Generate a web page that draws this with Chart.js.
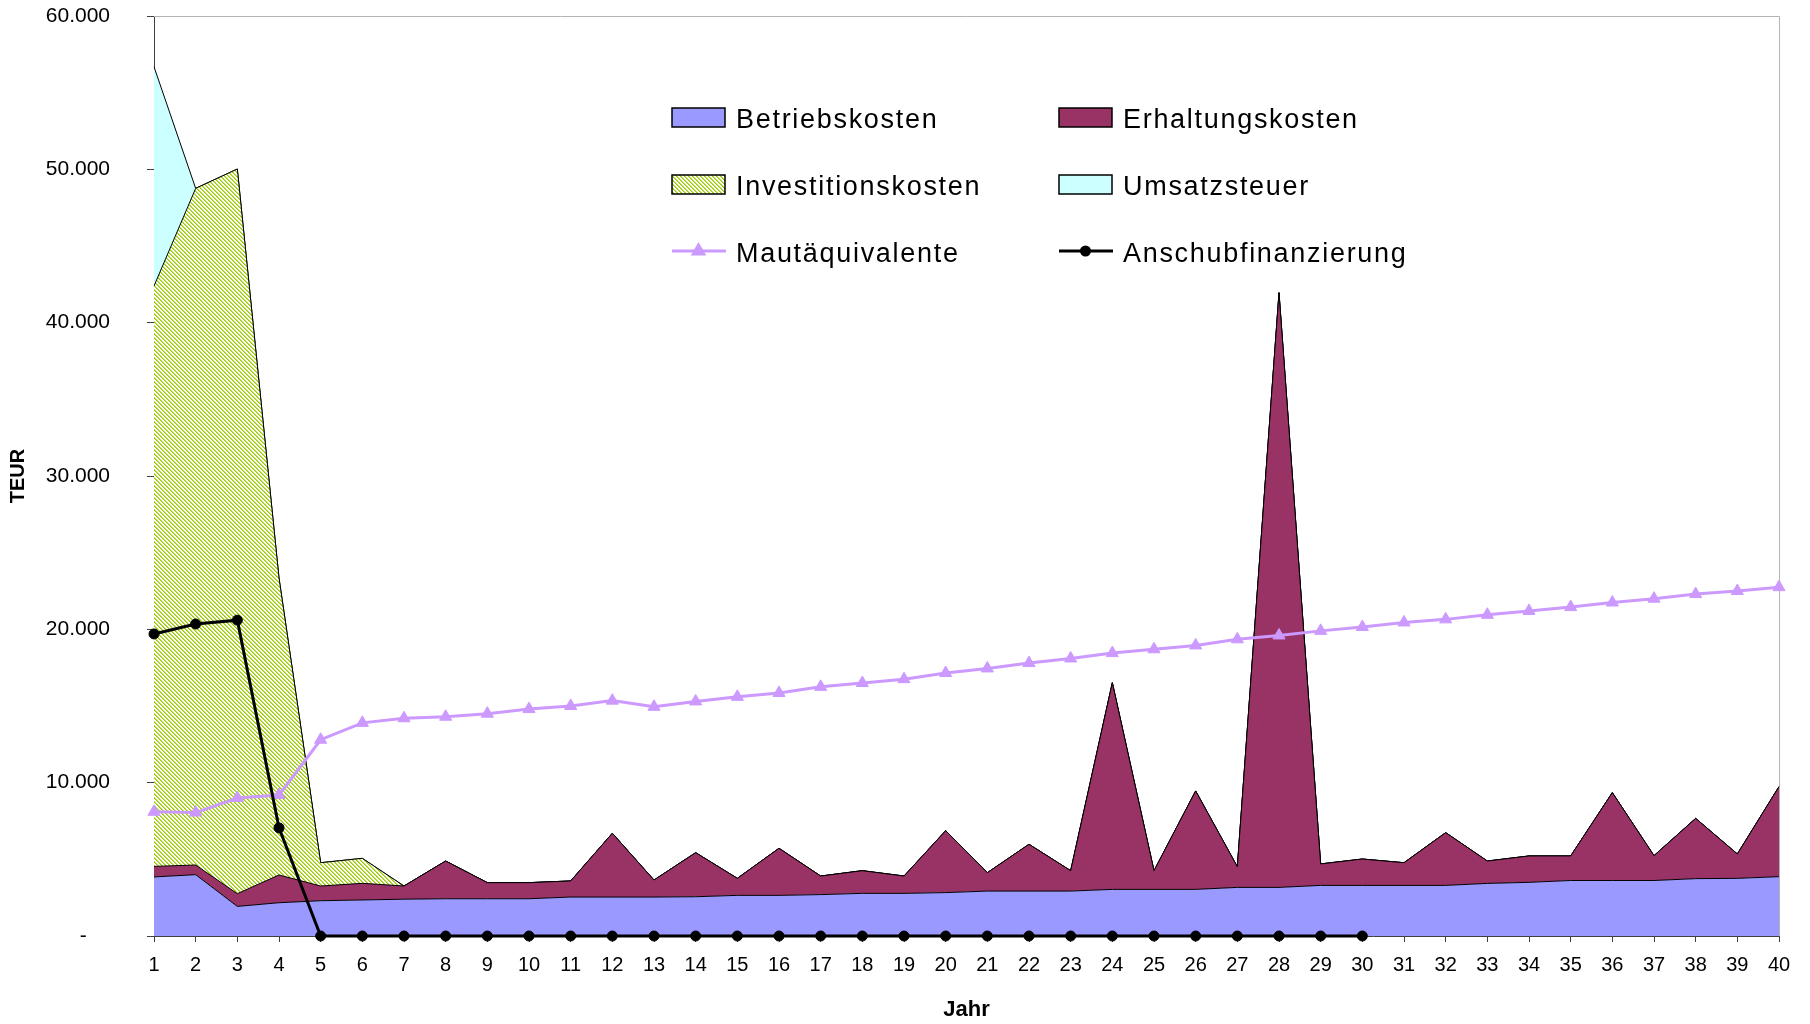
<!DOCTYPE html>
<html lang="de">
<head>
<meta charset="utf-8">
<title>Kosten und Mautäquivalente je Jahr</title>
<script src="https://cdn.jsdelivr.net/npm/chart.js@4.4.1/dist/chart.umd.min.js"></script>
<style>
  html, body { margin: 0; padding: 0; background: #ffffff; }
  #wrap { width: 1810px; height: 1024px; }
</style>
</head>
<body>
<div id="wrap"><canvas id="c" width="1810" height="1024"></canvas></div>
<script>
// ---- data (TEUR per year) ----
const jahre = ['1','2','3','4','5','6','7','8','9','10','11','12','13','14','15','16','17','18','19','20',
               '21','22','23','24','25','26','27','28','29','30','31','32','33','34','35','36','37','38','39','40'];

const betriebskosten = [3850, 4000, 1930, 2170, 2300, 2350, 2400, 2430, 2430, 2430,
                        2540, 2540, 2540, 2560, 2650, 2650, 2700, 2780, 2780, 2830,
                        2930, 2930, 2930, 3040, 3040, 3040, 3170, 3170, 3300, 3300,
                        3300, 3300, 3430, 3500, 3620, 3620, 3620, 3740, 3760, 3870];

const erhaltungskosten = [690, 630, 830, 1810, 960, 1085, 860, 2460, 1050, 1050,
                          1050, 4160, 1110, 2875, 1110, 3070, 1210, 1480, 1130, 4040,
                          1200, 3050, 1330, 13480, 1220, 6420, 1350, 38785, 1400, 1720,
                          1480, 3440, 1460, 1720, 1600, 5730, 1620, 3930, 1590, 5870];

const investitionskosten = [37850, 44130, 47260, 19370, 1520, 1630, 0, 0, 0, 0,
                            0, 0, 0, 0, 0, 0, 0, 0, 0, 0,
                            0, 0, 0, 0, 0, 0, 0, 0, 0, 0,
                            0, 0, 0, 0, 0, 0, 0, 0, 0, 0];

const umsatzsteuer = [14300, 0, 0, 0, 0, 0, 0, 0, 0, 0,
                      0, 0, 0, 0, 0, 0, 0, 0, 0, 0,
                      0, 0, 0, 0, 0, 0, 0, 0, 0, 0,
                      0, 0, 0, 0, 0, 0, 0, 0, 0, 0];

const mautaequivalente = [8100, 8050, 9000, 9200, 12800, 13900, 14200, 14300, 14500, 14800,
                          15000, 15350, 14950, 15300, 15600, 15850, 16250, 16500, 16750, 17150,
                          17450, 17800, 18100, 18450, 18700, 18950, 19350, 19600, 19900, 20150,
                          20450, 20650, 20950, 21200, 21450, 21750, 22000, 22300, 22500, 22750];

const anschubfinanzierung = [19700, 20350, 20600, 7050, 0, 0, 0, 0, 0, 0,
                             0, 0, 0, 0, 0, 0, 0, 0, 0, 0,
                             0, 0, 0, 0, 0, 0, 0, 0, 0, 0,
                             null, null, null, null, null, null, null, null, null, null];

const yTicks = [0, 10000, 20000, 30000, 40000, 50000, 60000];

// ---- styling helpers ----
const FONT = '"Liberation Sans", Arial, Helvetica, sans-serif';

// green diagonal hatch on white (stripes running down to the right)
function makeHatch() {
  const n = 8;
  const tile = document.createElement('canvas');
  tile.width = n; tile.height = n;
  const g = tile.getContext('2d');
  g.fillStyle = '#ffffff';
  g.fillRect(0, 0, n, n);
  for (let y = 0; y < n; y++) {
    for (let x = 0; x < n; x++) {
      const k = (((x - y) % 4) + 4) % 4;
      if (k === 0) { g.fillStyle = '#99cc00'; g.fillRect(x, y, 1, 1); }
      else if (k === 1) { g.fillStyle = '#bcdc5a'; g.fillRect(x, y, 1, 1); }
    }
  }
  return g.createPattern(tile, 'repeat');
}
const hatch = makeHatch();

// thousands separator with a dot, zero shown as a dash
function fmtTick(v) {
  if (v === 0) return '-    ';
  return String(Math.round(v)).replace(/\B(?=(\d{3})+(?!\d))/g, '.');
}

// light frame on the top and right side of the plot area
const plotFrame = {
  id: 'plotFrame',
  beforeDatasetsDraw(chart) {
    const { ctx, chartArea: a } = chart;
    ctx.save();
    ctx.strokeStyle = '#b4b4b4';
    ctx.lineWidth = 1;
    ctx.beginPath();
    ctx.moveTo(a.left, a.top + 0.5);
    ctx.lineTo(a.right + 0.5, a.top + 0.5);
    ctx.lineTo(a.right + 0.5, a.bottom);
    ctx.stroke();
    ctx.restore();
  }
};

// two-column legend inside the plot area
const gridLegend = {
  id: 'gridLegend',
  afterDraw(chart, args, opts) {
    const ctx = chart.ctx;
    const sets = chart.data.datasets;
    ctx.save();
    opts.order.forEach((idx, i) => {
      const d = sets[idx];
      const x = opts.colX[i % 2];
      const base = opts.rowBase[Math.floor(i / 2)];
      if (d.fill !== false) {
        ctx.fillStyle = d.backgroundColor;
        ctx.fillRect(x, base - 20, opts.boxW, opts.boxH);
        ctx.strokeStyle = '#000000';
        ctx.lineWidth = 1.5;
        ctx.strokeRect(x, base - 20, opts.boxW, opts.boxH);
      } else {
        const cy = base - 11;
        ctx.strokeStyle = d.borderColor;
        ctx.lineWidth = 3;
        ctx.beginPath();
        ctx.moveTo(x, cy);
        ctx.lineTo(x + opts.boxW + 1, cy);
        ctx.stroke();
        ctx.fillStyle = d.pointBackgroundColor;
        ctx.strokeStyle = d.pointBorderColor;
        Chart.helpers.drawPoint(ctx, {
          pointStyle: d.pointStyle, rotation: 0,
          radius: d.pointStyle === 'triangle' ? 6 : 4, borderWidth: 1
        }, x + opts.boxW / 2, cy);
      }
      ctx.fillStyle = '#000000';
      ctx.font = opts.font;
      if ('letterSpacing' in ctx) ctx.letterSpacing = opts.letterSpacing;
      ctx.textAlign = 'left';
      ctx.textBaseline = 'alphabetic';
      ctx.fillText(d.label, x + opts.textGap, base);
      if ('letterSpacing' in ctx) ctx.letterSpacing = '0px';
    });
    ctx.restore();
  }
};

const areaCommon = {
  borderColor: '#000000',
  borderWidth: 1,
  pointRadius: 0,
  pointHoverRadius: 0,
  tension: 0,
  stack: 'kosten',
  order: 2
};

new Chart(document.getElementById('c'), {
  type: 'line',
  data: {
    labels: jahre,
    datasets: [
      Object.assign({ label: 'Betriebskosten', data: betriebskosten, backgroundColor: '#9999ff', fill: 'origin' }, areaCommon),
      Object.assign({ label: 'Erhaltungskosten', data: erhaltungskosten, backgroundColor: '#993366', fill: '-1' }, areaCommon),
      Object.assign({ label: 'Investitionskosten', data: investitionskosten, backgroundColor: hatch, fill: '-1' }, areaCommon),
      Object.assign({ label: 'Umsatzsteuer', data: umsatzsteuer, backgroundColor: '#ccffff', fill: '-1' }, areaCommon),
      {
        label: 'Mautäquivalente', data: mautaequivalente, fill: false, stack: 'maut', order: 1,
        borderColor: '#cc99ff', borderWidth: 3, tension: 0,
        pointStyle: 'triangle', pointRadius: 7, pointHoverRadius: 7,
        pointBackgroundColor: '#cc99ff', pointBorderColor: '#cc99ff', pointBorderWidth: 1,
        clip: false
      },
      {
        label: 'Anschubfinanzierung', data: anschubfinanzierung, fill: false, stack: 'anschub', order: 0,
        borderColor: '#000000', borderWidth: 3, tension: 0,
        pointStyle: 'circle', pointRadius: 5, pointHoverRadius: 5,
        pointBackgroundColor: '#000000', pointBorderColor: '#000000', pointBorderWidth: 1,
        clip: false
      }
    ]
  },
  options: {
    responsive: false,
    animation: false,
    devicePixelRatio: 1,
    layout: { padding: { top: 16, right: 31, bottom: 0, left: 0 } },
    interaction: { mode: null },
    plugins: {
      legend: { display: false },
      tooltip: { enabled: false },
      gridLegend: {
        order: [0, 1, 2, 3, 4, 5],
        colX: [672, 1059],
        rowBase: [128, 195, 262],
        boxW: 53, boxH: 19, textGap: 64,
        font: '27px ' + FONT,
        letterSpacing: '1.7px'
      }
    },
    scales: {
      x: {
        type: 'category',
        offset: false,
        grid: { display: true, drawOnChartArea: false, drawTicks: true, tickLength: 6, color: '#404040', offset: false },
        border: { display: true, color: '#404040', width: 1 },
        ticks: { autoSkip: false, maxRotation: 0, minRotation: 0, padding: 11.5, color: '#000000', font: { family: FONT, size: 20 } },
        title: { display: true, text: 'Jahr', color: '#000000', font: { family: FONT, size: 22, weight: 'bold' }, padding: { top: 0, bottom: 1 } },
        afterFit(scale) { scale.height = 88; }
      },
      y: {
        stacked: true,
        min: 0,
        max: 60000,
        afterBuildTicks(scale) { scale.ticks = yTicks.map(v => ({ value: v })); },
        grid: { display: true, drawOnChartArea: false, drawTicks: true, tickLength: 7, color: '#404040' },
        border: { display: true, color: '#404040', width: 1 },
        ticks: { padding: 37, color: '#000000', font: { family: FONT, size: 21 }, callback: (v) => fmtTick(v) },
        title: { display: true, text: 'TEUR', color: '#000000', font: { family: FONT, size: 20, weight: 'bold' }, padding: { top: 6, bottom: 0 } },
        afterFit(scale) {
          scale.width = 154;
          // keep the label padding from pushing the plot area down
          scale.paddingTop = 12;
          scale.paddingBottom = 12;
        }
      }
    }
  },
  plugins: [plotFrame, gridLegend]
});
</script>
</body>
</html>
